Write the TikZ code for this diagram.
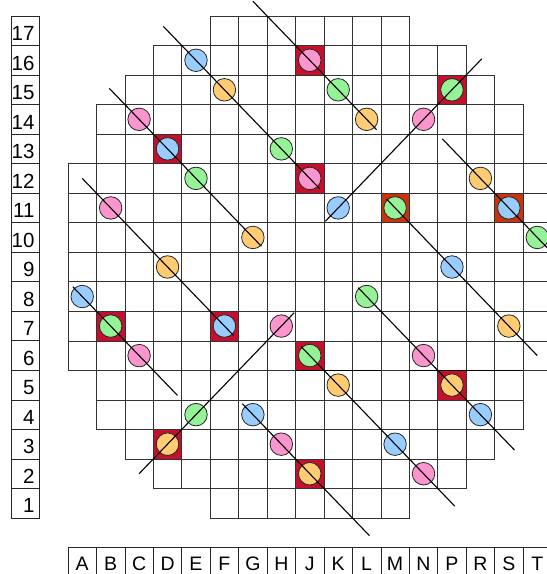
\documentclass[tikz,border=0pt]{standalone}
\usepackage{fontspec}
\setmainfont{Liberation Sans}
\definecolor{cblue}{RGB}{153,204,255}
\definecolor{cgreen}{RGB}{150,242,150}
\definecolor{corange}{RGB}{255,204,115}
\definecolor{cpink}{RGB}{250,150,205}
\definecolor{crimsonsq}{RGB}{196,16,44}
\definecolor{rustsq}{RGB}{200,52,12}
\begin{document}
\begin{tikzpicture}[x=28.44pt,y=29.53pt,
  gridline/.style={draw=black!80,line width=0.6pt},
  labbox/.style={draw=black!85,line width=0.7pt},
  chip/.style={circle,draw=black!85,line width=0.8pt,minimum size=22.5pt,inner sep=0pt},
  bluechip/.style={chip,fill=cblue},
  greenchip/.style={chip,fill=cgreen},
  orangechip/.style={chip,fill=corange},
  pinkchip/.style={chip,fill=cpink},
  cutline/.style={draw=black,line width=1.1pt},
  rowlab/.style={anchor=base east,inner sep=0pt,font=\fontsize{20.5}{21}\selectfont},
  collab/.style={anchor=base,inner sep=0pt,font=\fontsize{19.5}{20}\selectfont}
]
\useasboundingbox (-2.391,-1.896) rectangle (16.807,17.541);

% highlighted cells
\foreach \c/\r in {8/16,13/15,3/13,8/12,1/7,5/7,8/6,13/5,3/3,8/2}
  \fill[crimsonsq] (\c,\r-1) rectangle ++(1,1);
\foreach \c/\r in {11/11,15/11}
  \fill[rustsq] (\c,\r-1) rectangle ++(1,1);

% wafer grid
\foreach \r/\a/\b in {17/5/11,16/3/13,15/2/14,14/1/15,13/1/15,12/0/16,11/0/16,10/0/16,9/0/16,8/0/16,7/0/16,6/0/16,5/1/15,4/1/15,3/2/14,2/3/13,1/5/11}
  \foreach \c in {\a,...,\b}
    \draw[gridline] (\c,\r-1) rectangle ++(1,1);
\draw[black,line width=1.3pt] (8,5) -- (11,5);
\draw[black,line width=1.3pt] (12,5) -- (16,5);

% row labels
\foreach \r in {1,...,17}{
  \draw[labbox] (-2.004,\r-1) rectangle (-1.020,\r);
  \node[rowlab] (row\r) at (-1.17,\r-0.83) {\r};
}
% column labels
\foreach \c/\t in {0/A,1/B,2/C,3/D,4/E,5/F,6/G,7/H,8/J,9/K,10/L,11/M,12/N,13/P,14/R,15/S,16/T}{
  \draw[labbox] (\c,-0.982) rectangle (\c+1,-2.1);
  \node[collab] (col\t) at (\c+0.5,-1.77) {\t};
}

% chips
\node[bluechip] (cE16) at (4.5,15.5) {};
\node[bluechip] (cD13) at (3.5,12.5) {};
\node[bluechip] (cA8) at (0.5,7.5) {};
\node[bluechip] (cF7) at (5.5,6.5) {};
\node[bluechip] (cK11) at (9.5,10.5) {};
\node[bluechip] (cG4) at (6.5,3.5) {};
\node[bluechip] (cM3) at (11.5,2.5) {};
\node[bluechip] (cP9) at (13.5,8.5) {};
\node[bluechip] (cS11) at (15.5,10.5) {};
\node[bluechip] (cR4) at (14.5,3.5) {};

\node[greenchip] (cK15) at (9.5,14.5) {};
\node[greenchip] (cH13) at (7.5,12.5) {};
\node[greenchip] (cE12) at (4.5,11.5) {};
\node[greenchip] (cP15) at (13.5,14.5) {};
\node[greenchip] (cM11) at (11.5,10.5) {};
\node[greenchip] (cT10) at (16.5,9.5) {};
\node[greenchip] (cL8) at (10.5,7.5) {};
\node[greenchip] (cB7) at (1.5,6.5) {};
\node[greenchip] (cJ6) at (8.5,5.5) {};
\node[greenchip] (cE4) at (4.5,3.5) {};

\node[orangechip] (cF15) at (5.5,14.5) {};
\node[orangechip] (cL14) at (10.5,13.5) {};
\node[orangechip] (cG10) at (6.5,9.5) {};
\node[orangechip] (cD9) at (3.5,8.5) {};
\node[orangechip] (cR12) at (14.5,11.5) {};
\node[orangechip] (cS7) at (15.5,6.5) {};
\node[orangechip] (cK5) at (9.5,4.5) {};
\node[orangechip] (cP5) at (13.5,4.5) {};
\node[orangechip] (cD3) at (3.5,2.5) {};
\node[orangechip] (cJ2) at (8.5,1.5) {};

\node[pinkchip] (cC14) at (2.5,13.5) {};
\node[pinkchip] (cJ16) at (8.5,15.5) {};
\node[pinkchip] (cJ12) at (8.5,11.5) {};
\node[pinkchip] (cN14) at (12.5,13.5) {};
\node[pinkchip] (cB11) at (1.5,10.5) {};
\node[pinkchip] (cC6) at (2.5,5.5) {};
\node[pinkchip] (cH7) at (7.5,6.5) {};
\node[pinkchip] (cN6) at (12.5,5.5) {};
\node[pinkchip] (cH3) at (7.5,2.5) {};
\node[pinkchip] (cN2) at (12.5,1.5) {};

% line end points
\coordinate (l1s) at (3.35,16.65);  \coordinate (l1e) at (8.85,11.15);
\coordinate (l2s) at (6.5,17.5);    \coordinate (l2e) at (10.85,13.15);
\coordinate (l3s) at (1.45,14.55);  \coordinate (l3e) at (6.8,9.2);
\coordinate (l4s) at (0.5,11.5);    \coordinate (l4e) at (5.83,6.17);
\coordinate (l5s) at (0.17,7.83);   \coordinate (l5e) at (3.85,4.15);
\coordinate (l6s) at (2.5,1.5);     \coordinate (l6e) at (7.95,6.95);
\coordinate (l7s) at (9.05,10.05);  \coordinate (l7e) at (14.55,15.55);
\coordinate (l8s) at (13.16,12.84); \coordinate (l8e) at (17.5,8.5);
\coordinate (l9s) at (11.2,10.8);   \coordinate (l9e) at (16.5,5.5);
\coordinate (l10s) at (10.2,7.8);   \coordinate (l10e) at (15.7,2.3);
\coordinate (l11s) at (8.2,5.8);    \coordinate (l11e) at (13.6,0.4);
\coordinate (l12s) at (6.13,3.87);  \coordinate (l12e) at (10.6,-0.6);

% lines
\draw[cutline] (l1s) -- (cE16.center) -- (cJ12.center) -- (l1e);
\draw[cutline] (l2s) -- (cJ16.center) -- (cL14.center) -- (l2e);
\draw[cutline] (l3s) -- (cC14.center) -- (cG10.center) -- (l3e);
\draw[cutline] (l4s) -- (cB11.center) -- (cF7.center) -- (l4e);
\draw[cutline] (l5s) -- (cA8.center) -- (cC6.center) -- (l5e);
\draw[cutline] (l6s) -- (cD3.center) -- (cH7.center) -- (l6e);
\draw[cutline] (l7s) -- (cK11.center) -- (cP15.center) -- (l7e);
\draw[cutline] (l8s) -- (cR12.center) -- (cT10.center) -- (l8e);
\draw[cutline] (l9s) -- (cM11.center) -- (cS7.center) -- (l9e);
\draw[cutline] (l10s) -- (cL8.center) -- (cR4.center) -- (l10e);
\draw[cutline] (l11s) -- (cJ6.center) -- (cN2.center) -- (l11e);
\draw[cutline] (l12s) -- (cG4.center) -- (cJ2.center) -- (l12e);
\end{tikzpicture}
\end{document}
